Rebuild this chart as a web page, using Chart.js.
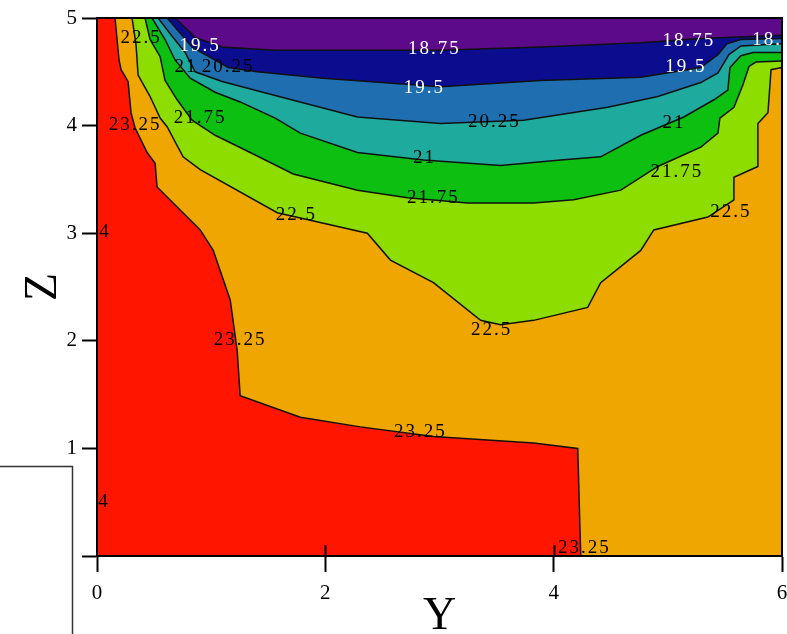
<!DOCTYPE html>
<html>
<head>
<meta charset="utf-8">
<style>
  html, body { margin: 0; padding: 0; background: #fff; }
  canvas { display: block; }
</style>
<script src="https://cdn.jsdelivr.net/npm/chart.js@4.4.1/dist/chart.umd.min.js"></script>
</head>
<body>
<canvas id="c" width="787" height="634"></canvas>
<script>
// Contour levels of the temperature field over the Y-Z section
const levels = [18.75, 19.5, 20.25, 21, 21.75, 22.5, 23.25];

// Each isoline as [Y, Z] vertices, running from the top edge to the right/bottom edge.
// The colder side of every isoline lies above it.
const iso2325 = [[0.158,5.0],[0.193,4.61],[0.211,4.52],[0.272,4.41],[0.298,4.12],[0.333,3.98],[0.439,3.75],[0.509,3.65],[0.526,3.43],[0.904,3.03],[1.018,2.84],[1.167,2.38],[1.228,1.91],[1.254,1.49],[1.781,1.29],[2.307,1.20],[2.947,1.11],[3.825,1.05],[4.211,1.00],[4.237,0],[6,0]];
const iso2250 = [[0.307,5.0],[0.342,4.75],[0.360,4.47],[0.465,4.27],[0.553,4.07],[0.614,3.99],[0.754,3.71],[0.904,3.59],[1.579,3.19],[2.368,3.00],[2.570,2.75],[2.947,2.54],[3.360,2.19],[3.535,2.15],[3.825,2.19],[4.298,2.31],[4.412,2.54],[4.763,2.84],[4.877,3.03],[5.351,3.15],[5.579,3.31],[5.579,3.52],[5.789,3.62],[5.789,4.02],[5.877,4.12],[5.904,4.52],[6.0,4.54]];
const iso2175 = [[0.421,5.0],[0.465,4.80],[0.553,4.64],[0.596,4.42],[0.702,4.24],[0.833,4.05],[1.035,3.91],[1.342,3.75],[1.719,3.55],[2.281,3.40],[2.719,3.33],[3.246,3.28],[3.825,3.28],[4.175,3.31],[4.588,3.40],[4.912,3.62],[5.289,3.80],[5.439,3.93],[5.456,4.07],[5.579,4.17],[5.658,4.38],[5.711,4.55],[5.772,4.59],[6.0,4.60]];
const iso2100 = [[0.482,5.0],[0.596,4.80],[0.684,4.61],[0.816,4.44],[1.035,4.31],[1.254,4.22],[1.561,4.07],[1.781,3.93],[2.281,3.75],[2.860,3.68],[3.535,3.63],[4.061,3.68],[4.412,3.71],[4.763,3.91],[5.140,4.08],[5.404,4.24],[5.526,4.33],[5.544,4.54],[5.640,4.65],[5.746,4.68],[6.0,4.68]];
const iso2025 = [[0.535,5.0],[0.658,4.83],[0.772,4.68],[0.860,4.50],[1.096,4.41],[1.561,4.28],[2.281,4.08],[3.009,4.02],[3.737,4.05],[4.474,4.17],[4.912,4.27],[5.289,4.40],[5.439,4.49],[5.535,4.66],[5.640,4.74],[6.0,4.76]];
const iso1950 = [[0.614,5.0],[0.728,4.86],[0.833,4.73],[1.149,4.54],[1.404,4.50],[1.982,4.44],[3.009,4.36],[3.886,4.42],[4.763,4.45],[5.289,4.54],[5.439,4.66],[5.518,4.76],[5.640,4.80],[6.0,4.81]];
const iso1875 = [[0.684,5.0],[0.860,4.82],[1.096,4.73],[1.561,4.70],[3.009,4.70],[3.886,4.73],[4.763,4.77],[5.289,4.81],[6.0,4.84]];

// Lower edge of the section (everything above it starts in the warmest band)
const floorEdge = [[0,0],[6,0]];

// Where each level value is printed: [level, Y, Z]
const labelSpots = [
  [18.75, 0.877, 5.04], [22.5, 0.386, 4.81], [19.5, 0.904, 4.74],
  [21, 0.78, 4.54], [20.25, 1.149, 4.54], [23.25, 0.333, 4.01], [21.75, 0.904, 4.07],
  [18.75, 2.956, 4.71], [19.5, 2.868, 4.35], [20.25, 3.48, 4.03], [21, 2.868, 3.70],
  [21.75, 2.947, 3.33], [22.5, 1.746, 3.17], [22.5, 3.456, 2.10],
  [23.25, 1.254, 2.01], [23.25, 2.833, 1.15], [23.25, 4.27, 0.07],
  [18.75, 5.184, 4.79], [19.5, 5.158, 4.54], [21, 5.053, 4.02],
  [21.75, 5.079, 3.57], [22.5, 5.553, 3.20], [18.75, 5.97, 4.80],
  [24, 0.02, 3.01], [24, 0.01, 0.50]
];

// Axis ticks
const yTicks = [0, 2, 4, 6];
const zTicks = [0, 1, 2, 3, 4, 5];

// Band colours, warmest first
const bandColors = ['#ff1500', '#efa600', '#8edd00', '#0dbf10', '#1eaa9c', '#1f6eb0', '#0c0c8f', '#5c0a8a'];

const isolines = [floorEdge, iso2325, iso2250, iso2175, iso2100, iso2025, iso1950, iso1875];

const datasets = isolines.map((pts, i) => ({
  data: pts.map(([x, y]) => ({ x, y })),
  fill: 'end',
  backgroundColor: bandColors[i],
  borderColor: '#111',
  borderWidth: i === 0 ? 0 : 1.5,
  pointRadius: 0,
  tension: 0,
  order: 10 - i
}));

const sectionDecor = {
  id: 'sectionDecor',
  afterDatasetsDraw(chart) {
    const { ctx, chartArea: a, scales: { x, y } } = chart;
    ctx.save();
    ctx.beginPath();
    ctx.rect(a.left, a.top, a.right - a.left, a.bottom - a.top);
    ctx.clip();
    ctx.font = '19px "Liberation Serif"';
    ctx.letterSpacing = '2px';
    ctx.textAlign = 'center';
    ctx.textBaseline = 'middle';
    labelSpots.forEach(([lv, py, pz]) => {
      ctx.fillStyle = lv < 20 ? '#ffffff' : '#000000';
      ctx.fillText(String(lv), x.getPixelForValue(py), y.getPixelForValue(pz));
    });
    ctx.restore();

    // frame around the section
    ctx.save();
    ctx.strokeStyle = '#000';
    ctx.lineWidth = 2;
    ctx.strokeRect(a.left, a.top, a.right - a.left, a.bottom - a.top);
    // short inner ticks on the Y axis
    [2, 4].forEach(v => {
      const px = Math.round(x.getPixelForValue(v)) + 0.5;
      ctx.beginPath();
      ctx.moveTo(px, a.bottom);
      ctx.lineTo(px, a.bottom - 11);
      ctx.stroke();
    });
    ctx.restore();
  },
  afterDraw(chart) {
    const { ctx } = chart;
    ctx.save();
    ctx.strokeStyle = '#333';
    ctx.lineWidth = 1.5;
    ctx.beginPath();
    ctx.moveTo(0, 466.5);
    ctx.lineTo(72.5, 466.5);
    ctx.lineTo(72.5, 634);
    ctx.stroke();
    ctx.restore();
  }
};

const tickFont = { family: '"Liberation Serif"', size: 21 };

new Chart(document.getElementById('c'), {
  type: 'line',
  data: { datasets },
  plugins: [sectionDecor],
  options: {
    responsive: false,
    animation: false,
    events: [],
    layout: { padding: { top: 18, right: 5, left: 0, bottom: 0 } },
    plugins: {
      legend: { display: false },
      tooltip: { enabled: false },
      filler: { drawTime: 'beforeDatasetsDraw', propagate: false }
    },
    scales: {
      x: {
        type: 'linear',
        min: 0, max: 6,
        afterBuildTicks: s => { s.ticks = yTicks.map(v => ({ value: v })); },
        ticks: { color: '#000', font: tickFont, padding: 9, maxRotation: 0 },
        grid: { drawOnChartArea: false, color: '#000', tickLength: 16, tickWidth: 2 },
        border: { color: '#000', width: 2 },
        title: {
          display: true, text: 'Y', color: '#000',
          font: { family: '"Liberation Serif"', size: 46, lineHeight: 0.75 },
          padding: { top: 0, bottom: 0 }
        },
        afterFit: s => { s.height = 78; s.paddingLeft = 0; s.paddingRight = 0; }
      },
      y: {
        type: 'linear',
        min: 0, max: 5,
        afterBuildTicks: s => { s.ticks = zTicks.map(v => ({ value: v })); },
        ticks: { color: '#000', font: tickFont, padding: 5, callback: v => (v === 0 ? '' : String(v)) },
        grid: { drawOnChartArea: false, color: '#000', tickLength: 15, tickWidth: 2 },
        border: { color: '#000', width: 2 },
        title: {
          display: true, text: 'Z', color: '#000',
          font: { family: '"Liberation Serif"', size: 46, lineHeight: 1 },
          padding: { top: 21, bottom: 0 }
        },
        afterFit: s => { s.width = 97; s.paddingTop = 0; s.paddingBottom = 0; }
      }
    }
  }
});
</script>
</body>
</html>
